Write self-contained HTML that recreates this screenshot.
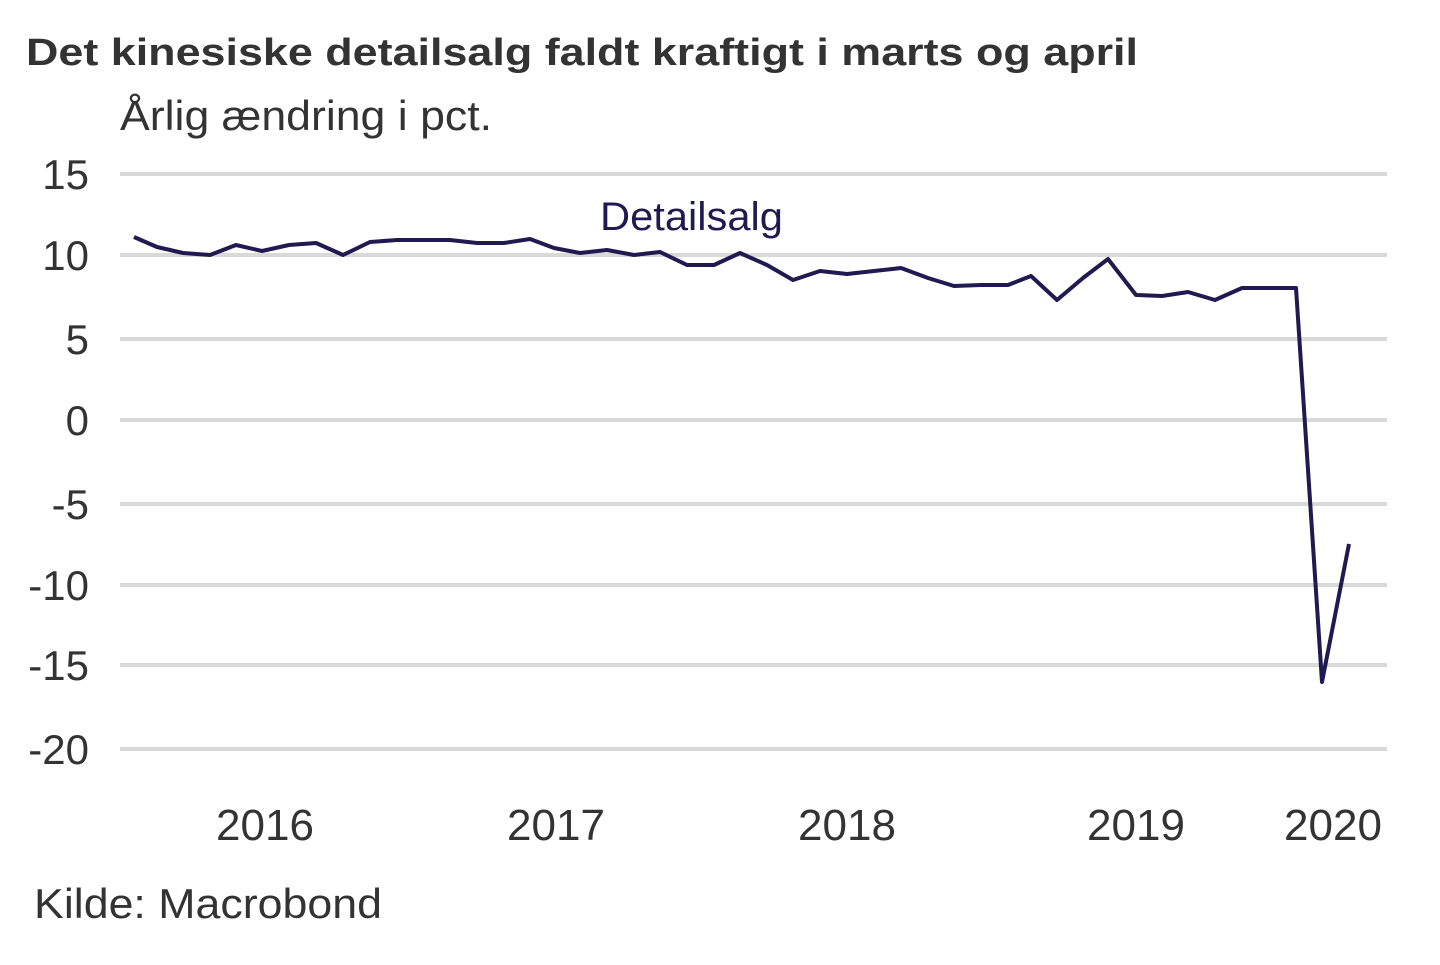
<!DOCTYPE html>
<html><head><meta charset="utf-8"><style>
html,body{margin:0;padding:0;background:#fff;}
svg text{font-family:"Liberation Sans",Arial,sans-serif;fill:#333;}
</style></head><body>
<svg width="1440" height="960" xmlns="http://www.w3.org/2000/svg">
<text x="26" y="65" font-size="38" font-weight="bold" textLength="1112" lengthAdjust="spacingAndGlyphs">Det kinesiske detailsalg faldt kraftigt i marts og april</text>
<text x="120" y="130" font-size="42" fill="#444" textLength="372" lengthAdjust="spacingAndGlyphs">Årlig ændring i pct.</text>
<g stroke="#d9d9d9" stroke-width="4">
<line x1="120" x2="1387" y1="174" y2="174"/>
<line x1="120" x2="1387" y1="255" y2="255"/>
<line x1="120" x2="1387" y1="339" y2="339"/>
<line x1="120" x2="1387" y1="420" y2="420"/>
<line x1="120" x2="1387" y1="504" y2="504"/>
<line x1="120" x2="1387" y1="585" y2="585"/>
<line x1="120" x2="1387" y1="665" y2="665"/>
<line x1="120" x2="1387" y1="749" y2="749"/>
</g>
<g font-size="42" text-anchor="end">
<text x="89" y="189">15</text>
<text x="89" y="270">10</text>
<text x="89" y="354">5</text>
<text x="89" y="435">0</text>
<text x="89" y="519">-5</text>
<text x="89" y="600">-10</text>
<text x="89" y="680">-15</text>
<text x="89" y="764">-20</text>
</g>
<g font-size="44" text-anchor="middle">
<text x="265" y="840">2016</text>
<text x="556" y="840">2017</text>
<text x="847" y="840">2018</text>
<text x="1136" y="840">2019</text>
<text x="1333" y="840">2020</text>
</g>
<text x="600" y="230" font-size="40" style="fill:#1f1a4f" textLength="183" lengthAdjust="spacingAndGlyphs">Detailsalg</text>
<polyline fill="none" stroke="#1f1a4f" stroke-width="4" stroke-linejoin="round" points="134,237 157,247 183,253 210,255 236,245 262,251 289,245 316,243 343,255 370,242 397,240 423,240 450,240 477,243 504,243 530,239 554,248 580,253 607,250 634,255 660,252 687,265 714,265 740,253 767,265 793,280 820,271 847,274 874,271 901,268 928,278 954,286 981,285 1008,285 1031,276 1057,300 1083,278 1108,259 1136,295 1162,296 1188,292 1215,300 1242,288 1268,288 1296,288 1322,682 1349,544"/>
<text x="34" y="918" font-size="42" fill="#444" textLength="348" lengthAdjust="spacingAndGlyphs">Kilde: Macrobond</text>
</svg>
</body></html>
